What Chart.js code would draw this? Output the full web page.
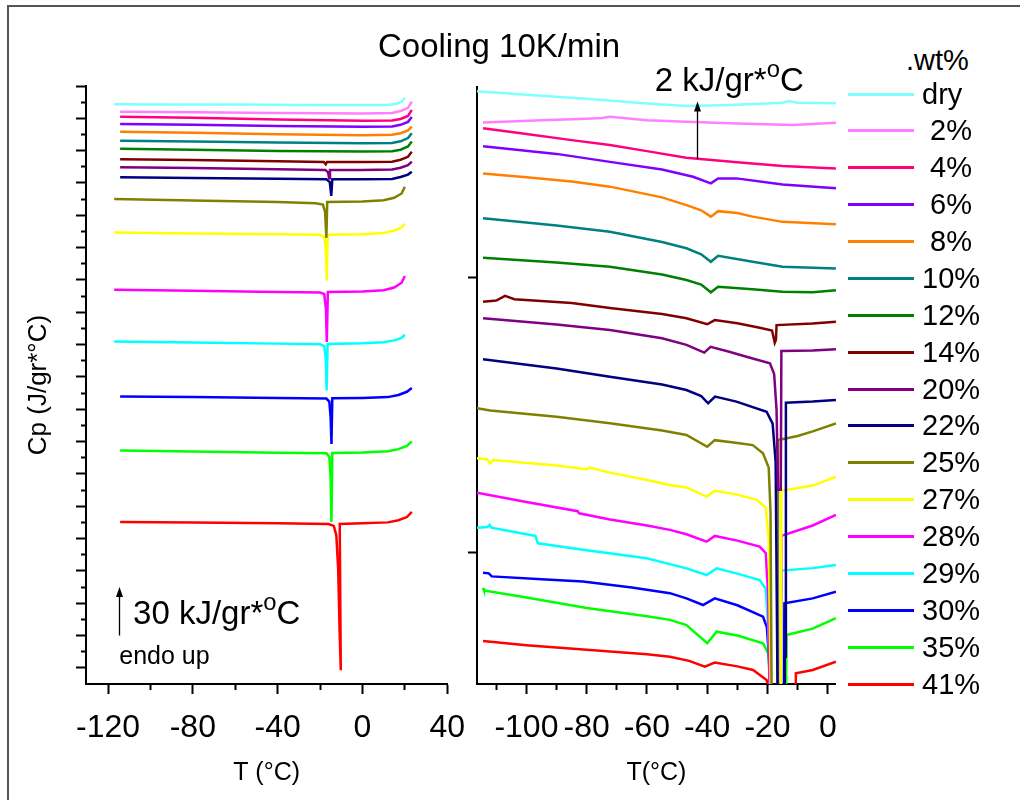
<!DOCTYPE html>
<html lang="en">
<head>
  <meta charset="UTF-8" />
  <title>Cooling 10K/min</title>
  <script src="https://cdn.jsdelivr.net/npm/chart.js"></script>
  <style>
    body { margin: 0; background: #fff; font-family: Arial, "Liberation Sans", sans-serif; }
    #wrap { position: relative; width: 1020px; height: 800px; overflow: hidden; }
    #frame { position: absolute; left: 7px; top: 5px; width: 1013px; height: 795px;
             border-top: 2px solid #555; border-left: 2px solid #555; }
    canvas { position: absolute; top: 0; }
    #left-chart { left: 0; }
    #right-chart { left: 400px; }
    #title { position: absolute; left: 378px; top: 29px; font-size: 33px; line-height: 33px; white-space: pre; }
    #legend-title { position: absolute; left: 906px; top: 46px; font-size: 29px; line-height: 29px; }
    .item { position: absolute; left: 848px; height: 29px; display: flex; align-items: center;
            font-size: 29px; line-height: 29px; white-space: pre; }
    .item span.swatch { display: inline-block; width: 66px; height: 3px; margin-right: 8px; }
  </style>
</head>
<body>
<div id="wrap">
  <div id="frame"></div>
  <canvas id="left-chart" width="480" height="800"></canvas>
  <canvas id="right-chart" width="452" height="800"></canvas>
  <div id="title">Cooling 10K/min</div>
  <div id="legend-title">.wt%</div>
  <div id="legend"></div>
</div>

<script>
  // series names + colours (legend order)
  const labels = ['dry', ' 2%', ' 4%', ' 6%', ' 8%', '10%', '12%', '14%', '20%', '22%', '25%', '27%', '28%', '29%', '30%', '35%', '41%'];
  const colors = ['#80FFFF', '#FF80FF', '#FF0080', '#8000FF', '#FF8000', '#008080', '#008000', '#800000', '#800080',
                  '#000080', '#808000', '#FFFF00', '#FF00FF', '#00FFFF', '#0000FF', '#00FF00', '#FF0000'];

  // left panel: [T (°C), Cp offset (kJ/gr*°C)]
  const leftDry = [[-117.1,358.7],[-90,358.6],[-60,358.5],[-30,358.3],[0,358.2],[12,358.3],[16,359.0],[18.5,360.3],[20,362.6]];
  const left2  = [[-114.3,354.1],[-80,353.8],[-40,353.3],[0,353.0],[14,353.3],[18,354.5],[21.5,356.5],[23.3,360.3]];
  const left4  = [[-114.3,351.0],[-80,350.3],[-40,349.3],[0,348.5],[14,348.7],[18,349.6],[21.5,351.5],[23.3,355.2]];
  const left6  = [[-114.3,346.5],[-80,346.0],[-40,345.3],[0,344.8],[14,345.0],[18,346.0],[21.5,347.8],[23.3,350.8]];
  const left8  = [[-114.3,341.7],[-80,341.0],[-40,340.2],[0,339.5],[14,339.8],[18,340.8],[21.5,342.5],[23.3,344.8]];
  const left10 = [[-114.3,336.2],[-80,335.7],[-40,335.0],[0,334.6],[14,334.8],[18,335.8],[21.5,337.8],[23.3,340.8]];
  const left12 = [[-114.3,331.1],[-80,330.6],[-40,329.8],[0,329.4],[14,329.6],[18,330.6],[21.5,332.6],[23.3,335.6]];
  const left14 = [[-114.3,324.7],[-80,324.2],[-40,323.4],[-18.2,323.0],[-17.3,321.6],[-16.7,323.0],[0,323.0],[14,323.2],[18,324.4],[21.5,326.2],[23.3,329.4]];
  const left20 = [[-114.3,319.7],[-80,319.2],[-40,318.5],[-17.5,318.1],[-16.2,316.6],[-15.7,312.9],[-15.3,318.1],[0,318.0],[14,318.3],[18,319.4],[21.5,321.0],[23.3,323.2]];
  const left22 = [[-114.3,313.6],[-80,313.1],[-40,312.6],[-17,312.3],[-15.4,310.5],[-14.7,302.0],[-14.2,312.3],[0,312.3],[14,312.5],[18,313.7],[21.5,315.2],[23.3,317.0]];
  const left25 = [[-117.1,300.1],[-80,299.2],[-40,298.2],[-22,297.5],[-18.6,296.6],[-17.6,292],[-17.0,276.0],[-16.6,298.3],[0,298.5],[10,299.3],[15,300.8],[18.5,303.5],[20,307.7]];
  const left27 = [[-117.1,279.3],[-80,278.7],[-40,278.2],[-20,277.9],[-18,276.8],[-17.2,268],[-16.8,249.5],[-16.4,277.9],[0,278.2],[10,279.0],[15,280.5],[18.5,282.5],[20,284.7]];
  const left28 = [[-117.1,243.9],[-80,243.3],[-40,242.6],[-20,242.3],[-18,241.2],[-17.2,232],[-16.8,211.6],[-16.3,242.5],[0,242.8],[10,243.6],[15,245.3],[18.5,248.3],[20,252.5]];
  const left29 = [[-117.1,211.9],[-80,211.3],[-40,210.6],[-20,210.2],[-18,209.1],[-17.2,200],[-16.9,181.6],[-16.4,210.4],[0,210.8],[10,211.5],[15,212.6],[18.5,214.2],[20,216.1]];
  const left30 = [[-114.3,177.9],[-80,177.5],[-40,177.0],[-17,176.6],[-15.6,174.8],[-15.0,165],[-14.6,148.5],[-14.2,176.8],[0,177.0],[12,177.5],[17,178.8],[21,180.8],[23.3,183.1]];
  const left35 = [[-114.3,144.4],[-80,143.9],[-40,143.1],[-17,142.7],[-15.6,140.6],[-15.0,128],[-14.6,100.3],[-14.2,142.9],[0,143.2],[12,144.0],[17,145.3],[21,147.3],[23.3,150.1]];
  const left41 = [[-114.3,100.3],[-80,99.9],[-40,99.4],[-16,99.0],[-13.5,97.8],[-12.3,92],[-11.4,70],[-10.8,35],[-10.2,8.5],[-10.7,99.0],[0,99.4],[12,100.0],[17,101.3],[21,103.3],[23.3,106.5]];

  // right panel (zoomed): [T (°C), Cp offset (kJ/gr*°C)]
  const rightDry = [[-116.4,16.78],[-100,16.65],[-80,16.5],[-60,16.33],[-47,16.24],[-35,16.27],[-20,16.33],[-15,16.36],[-13,16.42],[-10,16.36],[2.7,16.34]];
  const right2  = [[-114.4,15.64],[-95,15.72],[-80,15.78],[-75,15.8],[-72.3,15.85],[-60,15.72],[-47,15.67],[-30,15.6],[-11.6,15.55],[2.7,15.63]];
  const right4  = [[-114.4,15.43],[-100,15.22],[-85,15.0],[-72.3,14.82],[-60,14.6],[-47,14.36],[-30,14.2],[-15,14.06],[2.7,13.97]];
  const right6  = [[-114.4,14.78],[-90,14.5],[-72.3,14.21],[-55,13.93],[-44.7,13.67],[-38.8,13.43],[-36.4,13.61],[-30.3,13.61],[-15,13.39],[2.7,13.25]];
  const right8  = [[-114.4,13.79],[-100,13.65],[-85,13.5],[-72.3,13.31],[-55,12.92],[-46.9,12.64],[-42,12.45],[-38.8,12.22],[-36.4,12.42],[-30,12.35],[-24.9,12.22],[-15,12.03],[2.7,11.94]];
  const right10 = [[-114.4,12.16],[-90,11.9],[-72.3,11.67],[-55,11.3],[-46.9,11.07],[-42,10.85],[-38.8,10.58],[-36.4,10.80],[-24.9,10.58],[-15,10.40],[2.7,10.34]];
  const right12 = [[-114.4,10.73],[-90,10.55],[-72.3,10.40],[-55,10.12],[-46.9,9.92],[-42,9.75],[-38.8,9.47],[-36.4,9.67],[-25,9.58],[-15,9.49],[-5,9.47],[2.7,9.55]];
  const right14 = [[-114.4,9.13],[-110,9.17],[-107.1,9.34],[-104,9.22],[-85,9.08],[-72.3,8.90],[-55,8.68],[-46.9,8.53],[-40,8.31],[-37.5,8.46],[-30,8.35],[-22.6,8.18],[-18.5,8.08],[-17.6,7.64],[-17.2,7.75],[-17.0,8.28],[-5,8.34],[2.7,8.40]];
  const right20 = [[-114.4,8.53],[-90,8.30],[-72.3,8.10],[-55,7.80],[-46.9,7.56],[-41.0,7.28],[-38.9,7.49],[-33,7.32],[-27,7.13],[-19.2,6.89],[-17.8,6.5],[-17.0,5.2],[-16.5,2.3],[-15.6,2.3],[-15.4,7.34],[-5,7.36],[2.7,7.40]];
  const right22 = [[-114.4,7.04],[-90,6.7],[-72.3,6.40],[-55,6.12],[-46.9,5.92],[-42,5.7],[-39.7,5.44],[-37.4,5.68],[-30.3,5.50],[-20.3,5.13],[-18.3,4.7],[-17.3,3.3],[-16.6,-6],[-14.3,-6],[-14.3,-3.77],[-13.9,-3.77],[-13.9,5.46],[-5,5.50],[2.7,5.56]];
  const right25 = [[-116.4,5.26],[-112,5.18],[-90,4.95],[-72.3,4.71],[-55,4.45],[-46.9,4.29],[-40.0,3.86],[-37.5,4.10],[-30,4.0],[-24.9,3.92],[-21.5,3.62],[-19.6,3.1],[-19.0,1.5],[-18.6,-6],[-16.6,-6],[-16.5,4.10],[-10,4.25],[-5,4.42],[2.7,4.71]];
  const right27 = [[-116.4,3.44],[-113,3.40],[-112.1,3.25],[-111,3.38],[-90,3.18],[-80,3.04],[-79,3.10],[-72.3,2.92],[-60,2.65],[-52.4,2.47],[-46.9,2.38],[-40.2,2.05],[-37.5,2.26],[-30,2.12],[-23.6,1.93],[-20.6,1.65],[-19.6,0.5],[-18.8,-6],[-15.6,-6],[-15.4,2.26],[-5,2.45],[2.7,2.77]];
  const right28 = [[-116.4,2.19],[-100,1.85],[-83,1.52],[-82.5,1.44],[-72.3,1.22],[-60,1.0],[-52.4,0.84],[-46.9,0.68],[-40.2,0.41],[-37.5,0.62],[-30,0.45],[-22.6,0.23],[-20.6,0.0],[-19.8,-1.5],[-19.2,-6],[-15.6,-6],[-15.4,0.62],[-5,1.0],[2.7,1.38]];
  const right29 = [[-116.4,0.92],[-113,0.94],[-112.2,1.02],[-111.6,0.92],[-97,0.62],[-96.2,0.35],[-80,0.10],[-60.1,-0.19],[-46.9,-0.56],[-40.2,-0.80],[-36.9,-0.56],[-30,-0.75],[-22.6,-0.98],[-20.6,-1.3],[-19.7,-2.8],[-19.1,-6],[-15.6,-6],[-15.4,-0.64],[-5,-0.55],[2.7,-0.44]];
  const right30 = [[-114.4,-0.72],[-112.5,-0.74],[-111.5,-0.85],[-95,-0.95],[-81.3,-1.04],[-65,-1.25],[-52.4,-1.46],[-46.9,-1.65],[-41.4,-1.89],[-37.5,-1.65],[-30,-1.9],[-21.5,-2.31],[-20.2,-2.7],[-19.4,-4.0],[-19.0,-6],[-14.6,-6],[-14.4,-1.83],[-5,-1.65],[2.7,-1.41]];
  const right35 = [[-114.4,-1.27],[-114.1,-1.36],[-100,-1.62],[-80,-2.0],[-60,-2.3],[-52.4,-2.43],[-46.9,-2.62],[-40.0,-3.28],[-36.9,-2.86],[-30,-3.0],[-21.5,-3.28],[-19.8,-3.64],[-19.2,-4.5],[-18.9,-6],[-13.9,-6],[-13.7,-2.98],[-5,-2.75],[2.7,-2.37]];
  const right41 = [[-114.4,-3.20],[-100,-3.35],[-80,-3.52],[-60,-3.68],[-52.4,-3.77],[-46,-3.92],[-40.8,-4.13],[-37.5,-3.98],[-30,-4.12],[-24.8,-4.25],[-20.3,-4.61],[-18.9,-5.2],[-18.5,-6],[-10.7,-6],[-10.6,-4.37],[-5,-4.25],[2.7,-3.95]];

  const leftCurves  = [leftDry, left2, left4, left6, left8, left10, left12, left14, left20, left22, left25, left27, left28, left29, left30, left35, left41];
  const rightCurves = [rightDry, right2, right4, right6, right8, right10, right12, right14, right20, right22, right25, right27, right28, right29, right30, right35, right41];

  // axis ticks (labelled ones are the majors)
  const leftXTicks  = [-120, -100, -80, -60, -40, -20, 0, 20, 40];
  const leftXMajor  = [-120, -80, -40, 0, 40];
  const leftYTicks  = [10,20,30,40,50,60,70,80,90,100,110,120,130,140,150,160,170,180,190,200,210,220,230,240,250,260,270,280,290,300,310,320,330,340,350,360,370];
  const rightXTicks = [-110, -100, -90, -80, -70, -60, -50, -40, -30, -20, -10, 0];
  const rightXMajor = [-100, -80, -60, -40, -20, 0];
  const rightYTicks = [0, 10];

  Chart.defaults.font.family = 'Arial, "Liberation Sans", sans-serif';
  Chart.defaults.color = '#000';

  // legend (HTML)
  const legendEl = document.getElementById('legend');
  labels.forEach((lab, i) => {
    const d = document.createElement('div');
    d.className = 'item';
    d.style.top = (94 + i * 36.875 - 14.5) + 'px';
    d.innerHTML = `<span class="swatch" style="background:${colors[i]}"></span>${lab}`;
    legendEl.appendChild(d);
  });

  // arrows + scale texts, placed with data coordinates
  const notes = {
    id: 'notes',
    afterDraw(chart, args, opts) {
      const { ctx, scales: { x, y } } = chart;
      ctx.save();
      ctx.fillStyle = '#000';
      ctx.strokeStyle = '#000';
      (opts.arrows || []).forEach(a => {
        const px = Math.round(x.getPixelForValue(a.x)) + 0.5;
        const y0 = y.getPixelForValue(a.from), y1 = y.getPixelForValue(a.to);
        ctx.lineWidth = 1.3;
        ctx.beginPath(); ctx.moveTo(px, y0); ctx.lineTo(px, y1 + 8); ctx.stroke();
        ctx.beginPath(); ctx.moveTo(px, y1); ctx.lineTo(px - 3.5, y1 + 10); ctx.lineTo(px + 3.5, y1 + 10); ctx.closePath(); ctx.fill();
      });
      (opts.texts || []).forEach(t => {
        let px = x.getPixelForValue(t.x);
        const py = y.getPixelForValue(t.y);
        ctx.textBaseline = 'alphabetic';
        t.parts.forEach(p => {
          const size = p.sup ? t.size * 0.72 : t.size;
          ctx.font = `${size}px Arial, "Liberation Sans", sans-serif`;
          ctx.fillText(p.s, px, p.sup ? py - t.size * 0.42 : py);
          px += ctx.measureText(p.s).width;
        });
      });
      ctx.restore();
    }
  };

  function makeDatasets(curves) {
    return curves.map((c, i) => ({
      label: labels[i].trim(),
      data: c.map(([x, y]) => ({ x, y })),
      borderColor: colors[i],
      borderWidth: 2.5,
      showLine: true,
      pointRadius: 0,
      tension: 0
    }));
  }

  function xAxis(min, max, ticks, majors, title) {
    return {
      type: 'linear', min, max,
      afterBuildTicks: axis => { axis.ticks = ticks.map(v => ({ value: v })); },
      afterFit: scale => { scale.height = 116; },
      border: { color: '#000', width: 2 },
      grid: {
        drawOnChartArea: false, tickLength: 10, tickColor: '#000', tickWidth: 2,
        tickBorderDash: c => majors.includes(c.tick && c.tick.value) ? [] : [5, 100]
      },
      ticks: {
        autoSkip: false, maxRotation: 0, padding: 15, font: { size: 32 },
        callback: v => majors.includes(v) ? String(v) : ''
      },
      title: { display: true, text: title, font: { size: 25 }, padding: { bottom: 12 } }
    };
  }

  new Chart(document.getElementById('left-chart'), {
    type: 'scatter',
    data: { datasets: makeDatasets(leftCurves) },
    plugins: [notes],
    options: {
      responsive: false, animation: false, devicePixelRatio: 1,
      layout: { padding: { left: 0, top: 86, right: 23, bottom: 0 } },
      scales: {
        x: xAxis(-130.4, 40, leftXTicks, leftXMajor, 'T (°C)'),
        y: {
          type: 'linear', min: 0, max: 370,
          afterBuildTicks: axis => { axis.ticks = leftYTicks.map(v => ({ value: v })); },
          afterFit: scale => { scale.width = 86; },
          border: { color: '#000', width: 2 },
          grid: {
            drawOnChartArea: false, tickLength: 10, tickColor: '#000', tickWidth: 2,
            tickBorderDash: c => (c.tick && c.tick.value % 20 === 10) ? [] : [5, 5],
            tickBorderDashOffset: c => (c.tick && c.tick.value % 20 === 10) ? 0 : 5
          },
          ticks: { display: false },
          title: { display: true, text: 'Cp (J/gr*°C)', font: { size: 26 }, padding: { top: 23 } }
        }
      },
      plugins: {
        legend: { display: false },
        tooltip: { enabled: false },
        notes: {
          arrows: [{ x: -114.7, from: 30, to: 60 }],
          texts: [
            { x: -108.2, y: 37.4, size: 33, parts: [{ s: '30 kJ/gr*' }, { s: 'o', sup: true }, { s: 'C' }] },
            { x: -114.7, y: 12.1, size: 25, parts: [{ s: 'endo up' }] }
          ]
        }
      }
    }
  });

  new Chart(document.getElementById('right-chart'), {
    type: 'scatter',
    data: { datasets: makeDatasets(rightCurves) },
    plugins: [notes],
    options: {
      responsive: false, animation: false, devicePixelRatio: 1,
      layout: { padding: { left: 0, top: 87, right: 14, bottom: 0 } },
      scales: {
        x: xAxis(-116.4, 2.7, rightXTicks, rightXMajor, 'T(°C)'),
        y: {
          type: 'linear', min: -4.76, max: 16.93,
          afterBuildTicks: axis => { axis.ticks = rightYTicks.map(v => ({ value: v })); },
          afterFit: scale => { scale.width = 77; },
          border: { color: '#000', width: 2 },
          grid: { drawOnChartArea: false, tickLength: 9, tickColor: '#000', tickWidth: 2 },
          ticks: { display: false }
        }
      },
      plugins: {
        legend: { display: false },
        tooltip: { enabled: false },
        notes: {
          arrows: [{ x: -43.3, from: 14.31, to: 16.4 }],
          texts: [
            { x: -57.4, y: 16.79, size: 33, parts: [{ s: '2 kJ/gr*' }, { s: 'o', sup: true }, { s: 'C' }] }
          ]
        }
      }
    }
  });
</script>
</body>
</html>
